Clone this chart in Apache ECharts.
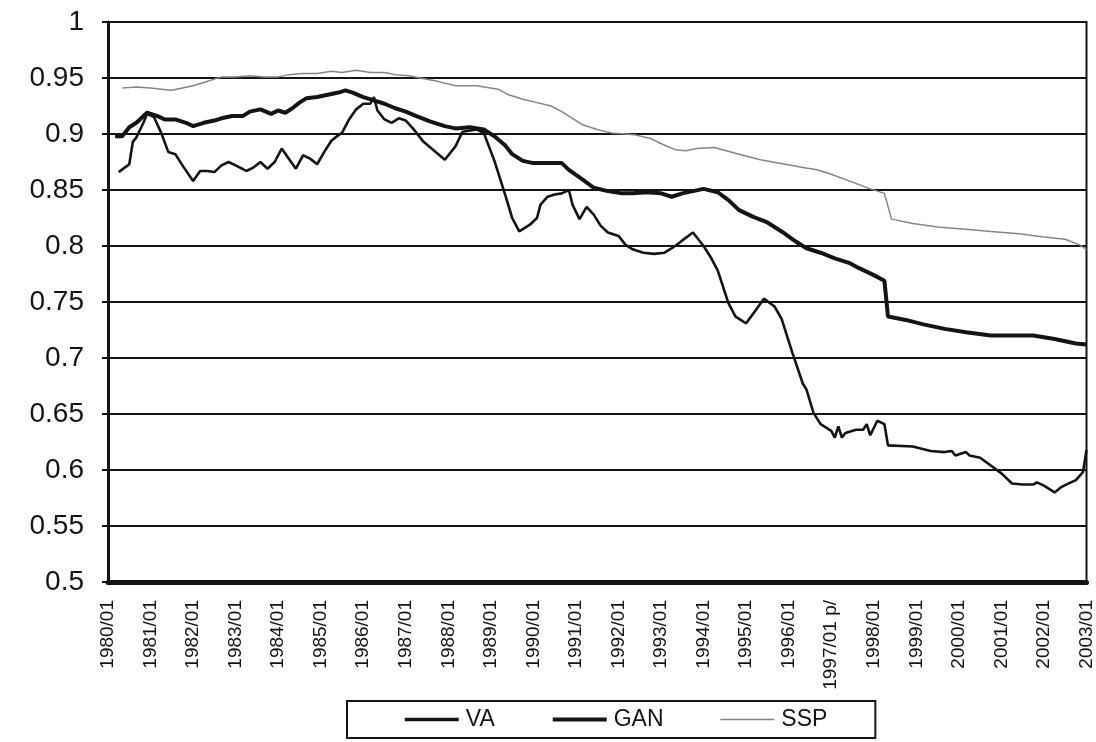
<!DOCTYPE html>
<html>
<head>
<meta charset="utf-8">
<script src="https://cdn.jsdelivr.net/npm/echarts@6/dist/echarts.min.js"></script>
<style>
  html, body { margin: 0; padding: 0; background: #fff; }
  #chart { width: 1096px; height: 742px; }
</style>
</head>
<body>
<div id="chart"></div>
<script>
// Monthly categories 1980/01 .. 2003/01 (index 0 .. 276)
const startYear = 1980, endYear = 2003;
const categories = [];
for (let y = startYear; y <= endYear; y++) {
  for (let m = 1; m <= 12; m++) {
    if (y === endYear && m > 1) break;
    let lab = y + '/' + (m < 10 ? '0' + m : '' + m);
    if (lab === '1997/01') lab = '1997/01 p/';
    categories.push(lab);
  }
}

const seriesNames = ['VA', 'GAN', 'SSP'];
const yTicks = { min: 0.5, max: 1, step: 0.05 };

// [month index from 1980/01, value]
const vaPoints = [
  [3,0.866],[6,0.873],[7,0.893],[8,0.897],[10,0.910],[11,0.918],[13,0.915],[15,0.901],[17,0.884],[19,0.882],
  [21,0.872],[24,0.858],[26,0.867],[28,0.867],[30,0.866],[32,0.872],[34,0.875],[36,0.872],[39,0.867],[41,0.870],
  [43,0.875],[45,0.869],[47,0.875],[49,0.887],[51,0.878],[53,0.869],[55,0.881],[57,0.878],[59,0.873],[61,0.884],
  [63,0.894],[65,0.899],[66,0.901],[68,0.913],[70,0.922],[72,0.927],[74,0.927],[75,0.933],[76,0.921],[78,0.913],
  [80,0.910],[82,0.914],[84,0.912],[86,0.905],[89,0.893],[92,0.885],[95,0.877],[98,0.889],[100,0.902],[104,0.904],
  [106,0.901],[109,0.876],[112,0.846],[114,0.825],[116,0.813],[119,0.819],[121,0.825],[122,0.837],[124,0.844],[126,0.846],
  [128,0.847],[130,0.850],[131,0.837],[133,0.824],[135,0.835],[137,0.828],[139,0.818],[141,0.812],[144,0.809],[146,0.801],
  [148,0.797],[151,0.794],[154,0.793],[157,0.794],[160,0.800],[162,0.805],[165,0.812],[168,0.800],[170,0.790],[172,0.778],
  [175,0.749],[177,0.737],[180,0.731],[183,0.744],[185,0.753],[188,0.746],[190,0.735],[193,0.705],[196,0.677],[197,0.672],
  [199,0.651],[201,0.641],[204,0.635],[205,0.629],[206,0.639],[207,0.629],[208,0.633],[211,0.636],[213,0.636],[214,0.641],
  [215,0.631],[217,0.644],[219,0.641],[220,0.622],[227,0.621],[232,0.617],[236,0.616],[238,0.617],[239,0.613],[242,0.616],
  [243,0.613],[246,0.611],[249,0.604],[252,0.597],[255,0.588],[258,0.587],[261,0.587],[262,0.589],[264,0.586],[267,0.580],
  [269,0.585],[271,0.588],[273,0.591],[275,0.598],[276,0.618]
];

const ganPoints = [
  [2,0.898],[4,0.898],[6,0.906],[8,0.910],[11,0.919],[14,0.916],[16,0.913],[19,0.913],[22,0.910],[24,0.907],
  [27,0.910],[30,0.912],[32,0.914],[35,0.916],[38,0.916],[40,0.920],[43,0.922],[46,0.918],[48,0.921],[50,0.919],
  [52,0.923],[54,0.928],[56,0.932],[59,0.933],[62,0.935],[65,0.937],[67,0.939],[69,0.937],[72,0.933],[75,0.930],
  [78,0.927],[81,0.923],[84,0.920],[87,0.916],[91,0.911],[95,0.907],[98,0.905],[102,0.906],[106,0.904],[109,0.898],
  [112,0.890],[114,0.882],[117,0.876],[120,0.874],[124,0.874],[128,0.874],[130,0.868],[134,0.859],[137,0.852],[141,0.849],
  [145,0.847],[148,0.847],[152,0.848],[156,0.847],[159,0.844],[162,0.847],[165,0.849],[168,0.851],[172,0.848],[175,0.841],
  [178,0.832],[182,0.826],[186,0.821],[190,0.813],[194,0.804],[197,0.798],[201,0.794],[205,0.789],[209,0.785],[212,0.780],
  [216,0.774],[219,0.769],[220,0.737],[225,0.734],[230,0.730],[236,0.726],[242,0.723],[249,0.720],[255,0.720],[261,0.720],
  [267,0.717],[273,0.713],[276,0.712]
];

const sspPoints = [
  [4,0.941],[8,0.942],[12,0.941],[15,0.940],[18,0.939],[21,0.941],[24,0.943],[27,0.946],[30,0.949],[32,0.951],
  [36,0.951],[40,0.952],[44,0.951],[48,0.951],[51,0.953],[55,0.954],[59,0.954],[63,0.956],[66,0.955],[70,0.957],
  [74,0.955],[78,0.955],[81,0.953],[85,0.952],[88,0.950],[93,0.947],[98,0.943],[104,0.943],[110,0.940],[113,0.935],
  [117,0.931],[121,0.928],[125,0.925],[128,0.920],[131,0.914],[134,0.908],[138,0.904],[142,0.901],[146,0.900],[149,0.899],
  [153,0.896],[157,0.890],[160,0.886],[163,0.885],[166,0.887],[171,0.888],[178,0.882],[184,0.877],[191,0.873],[196,0.870],
  [200,0.868],[204,0.864],[210,0.857],[215,0.851],[219,0.847],[221,0.824],[227,0.820],[234,0.817],[242,0.815],[249,0.813],
  [257,0.811],[264,0.808],[270,0.806],[274,0.801],[276,0.797]
];

const chart = echarts.init(document.getElementById('chart'), null, { renderer: 'canvas' });
const ink = '#141414';
const gray = '#858585';
chart.setOption({
  animation: false,
  backgroundColor: '#ffffff',
  grid: {
    left: 108, right: 8, top: 22, bottom: 160,
    show: true, borderColor: ink, borderWidth: 2, backgroundColor: 'transparent'
  },
  xAxis: {
    type: 'category',
    data: categories,
    boundaryGap: false,
    axisLine: { show: true, lineStyle: { color: ink, width: 5 } },
    axisTick: { show: false },
    axisLabel: {
      interval: 11,
      rotate: 90,
      margin: 18,
      fontSize: 19,
      fontFamily: "'Liberation Sans Narrow', 'Liberation Sans', Arial, sans-serif",
      color: ink
    },
    splitLine: { show: false }
  },
  yAxis: {
    type: 'value',
    min: yTicks.min, max: yTicks.max, interval: yTicks.step,
    axisLine: { show: true, lineStyle: { color: ink, width: 3 } },
    axisTick: { show: true, length: 6, lineStyle: { color: ink, width: 2 } },
    axisLabel: {
      margin: 24,
      fontSize: 28,
      fontFamily: "'Liberation Sans', Arial, sans-serif",
      color: ink,
      formatter: v => String(+v.toFixed(2))
    },
    splitLine: { show: true, lineStyle: { color: ink, width: 2 } }
  },
  legend: {
    data: [
      { name: seriesNames[0], itemStyle: { opacity: 0 }, lineStyle: { width: 3.5, color: ink } },
      { name: seriesNames[1], itemStyle: { opacity: 0 }, lineStyle: { width: 4, color: ink } },
      { name: seriesNames[2], itemStyle: { opacity: 0 }, lineStyle: { width: 1.5, color: gray } }
    ],
    left: 347, top: 701,
    orient: 'horizontal',
    padding: [7, 48, 7, 56],
    itemGap: 56,
    itemWidth: 54, itemHeight: 14,
    borderColor: ink, borderWidth: 2,
    textStyle: { fontSize: 23, fontFamily: "'Liberation Sans', Arial, sans-serif", color: ink, padding: [0, 0, 0, 2] }
  },
  series: [
    { name: seriesNames[0], type: 'line', data: vaPoints, symbol: 'none', smooth: false,
      lineStyle: { color: ink, width: 2.6 }, itemStyle: { color: ink }, z: 4 },
    { name: seriesNames[1], type: 'line', data: ganPoints, symbol: 'none', smooth: false,
      lineStyle: { color: ink, width: 4 }, itemStyle: { color: ink }, z: 5 },
    { name: seriesNames[2], type: 'line', data: sspPoints, symbol: 'none', smooth: false,
      lineStyle: { color: gray, width: 1.5 }, itemStyle: { color: gray }, z: 3 }
  ]
});
</script>
</body>
</html>
